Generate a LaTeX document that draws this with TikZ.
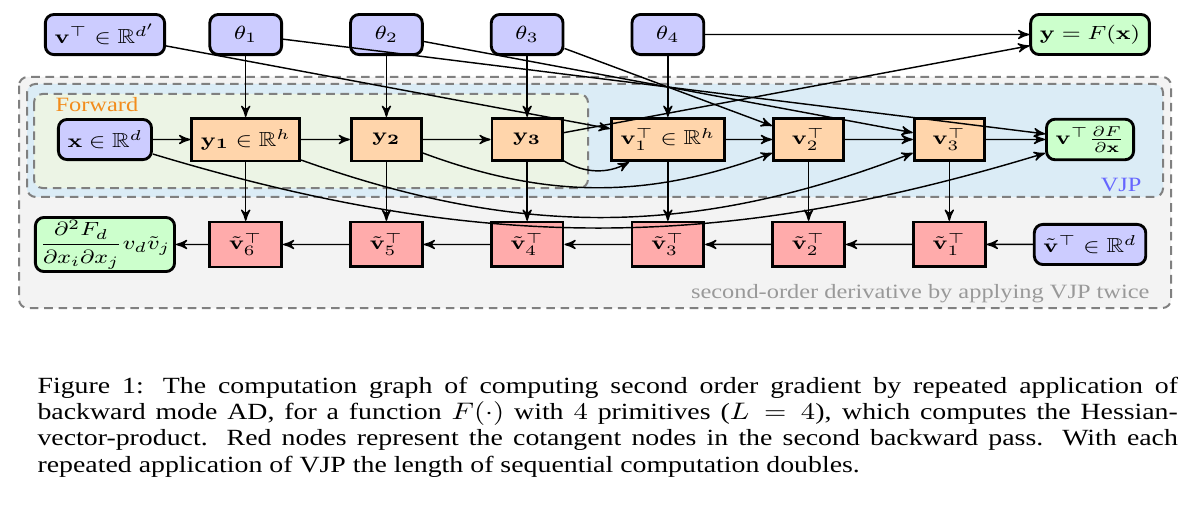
\documentclass[tikz,border=0pt]{standalone}
\usepackage[no-math]{fontspec}
\setmainfont{Liberation Serif}
\usepackage{amssymb}
\usetikzlibrary{shapes, arrows, positioning}

\definecolor{vjpblue}{RGB}{219,236,246}
\definecolor{fwdgreen}{RGB}{236,244,229}
\definecolor{hvpgray}{RGB}{243,243,243}
\definecolor{fwdorange}{RGB}{242,140,28}

\begin{document}
\begin{tikzpicture}[
    yscale=0.833, transform shape,
    >=stealth',
    node distance=1.544cm and 1.724cm, on grid,
    font=\fontsize{8.5}{10.2}\selectfont,
    param/.style={rectangle, rounded corners=3pt, draw, line width=1pt, fill=blue!20, inner sep=3.2pt, minimum width=0.88cm, minimum height=0.59cm},
    prim/.style={rectangle, draw, line width=1pt, fill=orange!33, inner sep=3.2pt, minimum width=0.86cm, minimum height=0.63cm},
    cotan/.style={rectangle, draw, line width=1pt, fill=red!33, inner sep=3.2pt, minimum width=0.88cm, minimum height=0.66cm},
    result/.style={rectangle, rounded corners=3pt, draw, line width=1pt, fill=green!20, inner sep=3.2pt, minimum height=0.59cm},
    region/.style={draw=gray, dash pattern=on 3pt off 2pt, line width=0.7pt, rounded corners=3pt},
    flow/.style={->, line width=0.5pt}
]
\useasboundingbox (0,0) rectangle (14.64,-7.604);

% Regions
\draw[region, fill=hvpgray] (0.233,-1.132) rectangle (14.346,-4.530);
\draw[region, fill=vjpblue] (0.331,-1.235) rectangle (14.248,-2.897);
\draw[region, fill=fwdgreen] (0.417,-1.382) rectangle (7.204,-2.765);
\node[anchor=base west, inner sep=0, text=fwdorange] (fwdlabel) at (0.674,-1.647) {Forward};
\node[anchor=base east, inner sep=0, text=blue!60] (vjplabel) at (13.991,-2.809) {VJP};
\node[anchor=base east, inner sep=0, text=gray!80] (twicelabel) at (14.089,-4.383) {second-order derivative by applying VJP twice};

% Nodes
\node[param] (x) at (1.286,-2.052) {$\mathbf{x} \in \mathbb{R}^d$};
\node[prim, right=of x] (y1) {$\mathbf{y_1} \in \mathbb{R}^h$};
\node[prim, right=of y1] (y2) {$\mathbf{y_2}$};
\node[prim, right=of y2] (y3) {$\mathbf{y_3}$};
\node[prim, right=of y3] (v1) {$\mathbf{v}_1^\top \in \mathbb{R}^h$};
\node[prim, right=of v1] (v2) {$\mathbf{v}_2^\top$};
\node[prim, right=of v2] (v3) {$\mathbf{v}_3^\top$};
\node[result, right=of v3] (vF) {$\mathbf{v}^\top \frac{\partial F}{\partial \mathbf{x}}$};

\node[param, above=of x] (vT) {$\mathbf{v}^\top \in \mathbb{R}^{d'}$};
\node[param, above=of y1] (t1) {$\theta_1$};
\node[param, above=of y2] (t2) {$\theta_2$};
\node[param, above=of y3] (t3) {$\theta_3$};
\node[param, above=of v1] (t4) {$\theta_4$};
\node[result, above=of vF] (yF) {$\mathbf{y} = F(\mathbf{x})$};

\node[result, below=of x, inner xsep=1.5pt, inner ysep=1pt] (hvp) {$\displaystyle \frac{\partial^2 F_d}{\partial x_i \partial x_j} v_d \tilde{v}_j$};
\node[cotan, below=of y1] (tv6) {$\tilde{\mathbf{v}}_6^\top$};
\node[cotan, below=of y2] (tv5) {$\tilde{\mathbf{v}}_5^\top$};
\node[cotan, below=of y3] (tv4) {$\tilde{\mathbf{v}}_4^\top$};
\node[cotan, below=of v1] (tv3) {$\tilde{\mathbf{v}}_3^\top$};
\node[cotan, below=of v2] (tv2) {$\tilde{\mathbf{v}}_2^\top$};
\node[cotan, below=of v3] (tv1) {$\tilde{\mathbf{v}}_1^\top$};
\node[param, below=of vF] (tvT) {$\tilde{\mathbf{v}}^\top \in \mathbb{R}^d$};

% Edges
\draw[flow] (t1) -- (y1);
\draw[flow] (t2) -- (y2);
\draw[flow] (t3) -- (y3);
\draw[flow] (t4) -- (v1);
\draw[flow] (x) -- (y1);
\draw[flow] (y1) -- (y2);
\draw[flow] (y2) -- (y3);
\draw[flow] (v1) -- (v2);
\draw[flow] (v2) -- (v3);
\draw[flow] (v3) -- (vF);
\draw[flow] (vT) -- (v1);
\draw[flow] (t3) -- (v2);
\draw[flow] (t2) -- (v3);
\draw[flow] (t1) -- (vF);
\draw[flow] (y3) to[bend right=35] (v1);
\draw[flow] (y2) to[bend right=24] (v2);
\draw[flow] (y1) to[bend right=24] (v3);
\draw[flow] (x) to[bend right=20] (vF);
\draw[flow] (t4) -- (yF);
\draw[flow] (y3) -- (yF);

% Second backward pass
\draw[flow] (y1) -- (tv6);
\draw[flow] (y2) -- (tv5);
\draw[flow] (y3) -- (tv4);
\draw[flow] (v1) -- (tv3);
\draw[flow] (v2) -- (tv2);
\draw[flow] (v3) -- (tv1);
\draw[flow] (tvT) -- (tv1);
\draw[flow] (tv1) -- (tv2);
\draw[flow] (tv2) -- (tv3);
\draw[flow] (tv3) -- (tv4);
\draw[flow] (tv4) -- (tv5);
\draw[flow] (tv5) -- (tv6);
\draw[flow] (tv6) -- (hvp);

% Caption
\node[anchor=north west, inner sep=0, text width=397.5pt, align=justify, font=\fontsize{9.7}{11}\selectfont] (caption) at (0.453,-5.537) {Figure 1: The computation graph of computing second order gradient by repeated application of\linebreak backward mode AD, for a function $F(\cdot)$ with $4$ primitives ($L=4$), which computes the Hessian-\linebreak vector-product. Red nodes represent the cotangent nodes in the second backward pass. With each\linebreak repeated application of VJP the length of sequential computation doubles.};

\end{tikzpicture}
\end{document}
